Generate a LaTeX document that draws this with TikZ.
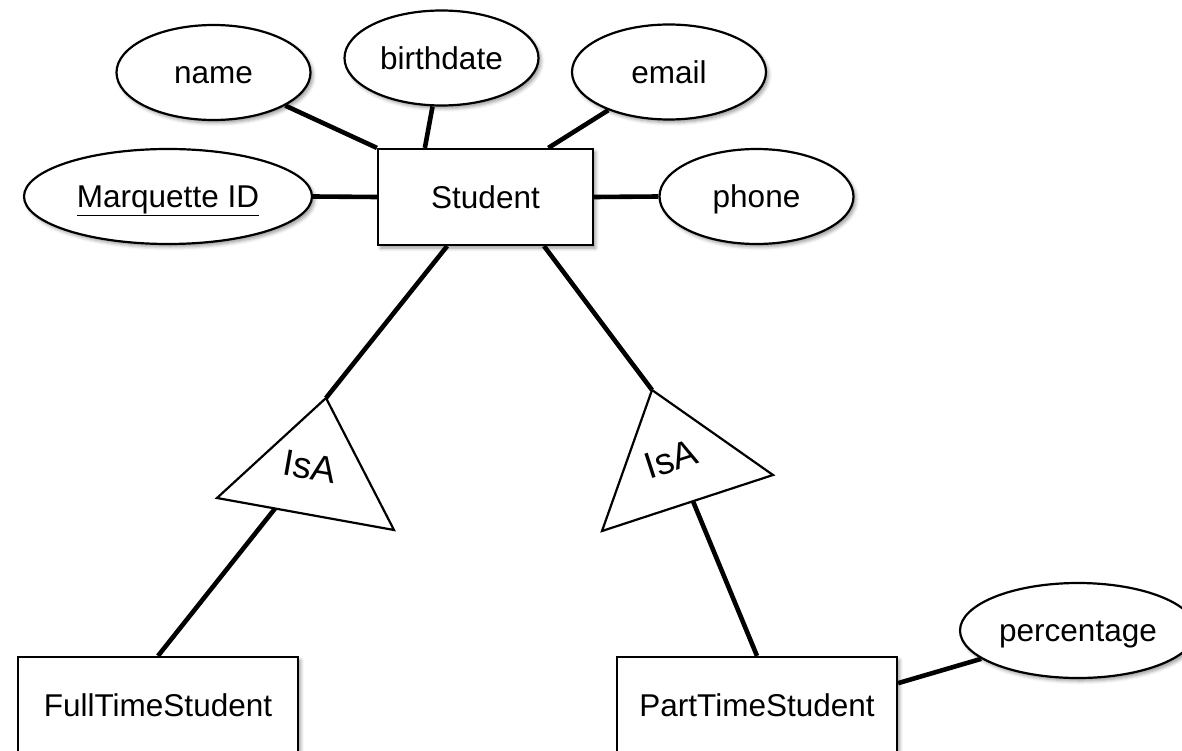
\documentclass[tikz,border=0pt]{standalone}
\usepackage{fontspec}
\setmainfont{Liberation Sans}
\usetikzlibrary{shapes.geometric,shadows.blur,calc}
\begin{document}
\begin{tikzpicture}[x=1pt,y=-1pt,
  every node/.style={font=\fontsize{31.5}{36}\selectfont},
  softshadow/.style={blur shadow={shadow xshift=2.5pt,shadow yshift=-3pt,
      shadow blur radius=3.5pt,shadow opacity=40}},
  label text/.style={text height=22.5pt,text depth=0pt},
  attr/.style={ellipse,draw,line width=2.2pt,fill=white,inner sep=0pt,
      minimum width=194pt,minimum height=95pt,softshadow,label text},
  entity/.style={rectangle,draw,line width=2.2pt,fill=white,inner sep=0pt,softshadow,label text},
  connector/.style={line width=4.6pt},
  isa/.style={draw,line width=2.2pt,line join=miter,fill=white},
  isatext/.style={font=\fontsize{37}{40}\selectfont}
]
\useasboundingbox (0,0) rectangle (1182,751);

% entities
\node[entity,minimum width=215pt,minimum height=96pt] (student) at (485.5,197) {Student};
\node[entity,minimum width=280pt,minimum height=97pt] (fts) at (158,705.5) {FullTimeStudent};
\node[entity,minimum width=280pt,minimum height=97pt] (pts) at (757,705.5) {PartTimeStudent};

% attributes
\node[attr] (name) at (213.5,72.5) {name};
\node[attr] (birthdate) at (441.5,58) {birthdate};
\node[attr] (email) at (669,72) {email};
\node[attr,minimum width=288pt] (mid) at (168,196.5) {\underline{Marquette ID}};
\node[attr] (phone) at (756.5,196.5) {phone};
\node[attr,minimum width=236pt] (pct) at (1078,630.5) {percentage};

% IsA triangles
\coordinate (isaLtop) at (326,398);
\coordinate (isaLleft) at (217,498);
\coordinate (isaLright) at (394,530);
\draw[isa] (isaLtop) -- (isaLleft) -- (isaLright) -- cycle;
\node[isatext,rotate=-10] (isaLlabel) at (310,467) {IsA};
\coordinate (isaLfoot) at ($(isaLleft)!0.328!(isaLright)$);

\coordinate (isaRtop) at (652,390);
\coordinate (isaRright) at (773,475);
\coordinate (isaRleft) at (602,531);
\draw[isa] (isaRtop) -- (isaRright) -- (isaRleft) -- cycle;
\node[isatext,rotate=18] (isaRlabel) at (671,459) {IsA};
\coordinate (isaRfoot) at ($(isaRleft)!0.532!(isaRright)$);

% connectors
\draw[connector] (name) -- (student.north west);
\draw[connector] (birthdate) -- (student.141);
\draw[connector] (email) -- (student.38);
\draw[connector] (mid.east) -- (student.west);
\draw[connector] (student.east) -- (phone.west);
\draw[connector] (student.232) -- (isaLtop);
\draw[connector] (student.320) -- (isaRtop);
\draw[connector] (isaLfoot) -- (fts.north);
\draw[connector] (isaRfoot) -- (pts.north);
\draw[connector] (pts.9) -- (pct);
\end{tikzpicture}
\end{document}
